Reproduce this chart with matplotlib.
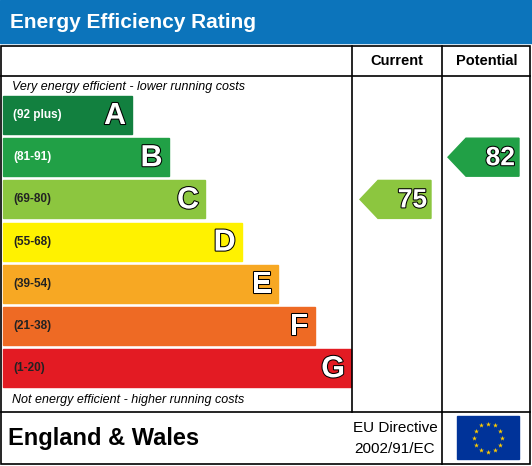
import matplotlib.pyplot as plt
import matplotlib.patheffects as pe
from matplotlib.patches import Rectangle, Polygon
import numpy as np

bands = ['A', 'B', 'C', 'D', 'E', 'F', 'G']
ranges = ['(92 plus)', '(81-91)', '(69-80)', '(55-68)', '(39-54)', '(21-38)', '(1-20)']
colors = ['#12803f', '#21a046', '#8cc63f', '#fff200', '#f7a823', '#ee6a24', '#e31b23']
current = 75
potential = 82


def band_of(score):
    lows = [92, 81, 69, 55, 39, 21, 1]
    for i, lo in enumerate(lows):
        if score >= lo:
            return i
    return 6


fig = plt.figure(figsize=(5.32, 4.66), dpi=100)
ax = fig.add_axes([0, 0, 1, 1])
ax.set_xlim(0, 532)
ax.set_ylim(466, 0)
ax.axis('off')
outline = [pe.withStroke(linewidth=1.5, foreground='black')]

# title bar
ax.add_patch(Rectangle((0, 0), 532, 43, color='#0c74bb'))
ax.text(10, 22, 'Energy Efficiency Rating', color='white', fontsize=15,
        fontweight='bold', va='center', family='Liberation Sans')

# frame and grid
lw = 1.2
ax.add_patch(Rectangle((1, 46), 529, 418, fill=False, lw=lw, ec='black'))
ax.plot([352, 352], [46, 412], color='black', lw=lw)
ax.plot([442, 442], [46, 412], color='black', lw=lw)
ax.plot([1, 530], [76, 76], color='black', lw=lw)
ax.plot([1, 530], [412, 412], color='black', lw=lw)
ax.plot([442, 442], [412, 464], color='black', lw=lw)
ax.text(397, 61, 'Current', ha='center', va='center', fontsize=10.5,
        fontweight='bold', family='Liberation Sans')
ax.text(487, 61, 'Potential', ha='center', va='center', fontsize=10.5,
        fontweight='bold', family='Liberation Sans')

ax.text(12, 87, 'Very energy efficient - lower running costs', fontsize=9,
        style='italic', va='center', family='Liberation Sans')
ax.text(12, 400, 'Not energy efficient - higher running costs', fontsize=9,
        style='italic', va='center', family='Liberation Sans')

# bands
top0, step, h = 96, 42.2, 38
for i, (b, r, c) in enumerate(zip(bands, ranges, colors)):
    y = top0 + i * step
    w = 129 + 36.5 * i
    ax.add_patch(Rectangle((3, y), w, h, color=c))
    ax.text(13, y + h / 2, r, color='white' if i < 2 else '#222222',
            fontsize=8.5, fontweight='bold', va='center', family='Liberation Sans')
    ax.text(3 + w - 6, y + h / 2 + 1, b, color='white', fontsize=22, fontweight='bold',
            ha='right', va='center', family='Liberation Sans', path_effects=outline)


def arrow(x0, x1, score):
    i = band_of(score)
    y = top0 + i * step
    pts = [(x0, y + h / 2), (x0 + 18, y), (x1, y), (x1, y + h), (x0 + 18, y + h)]
    ax.add_patch(Polygon(pts, closed=True, color=colors[i]))
    ax.text(x1 - 4, y + h / 2 + 1, str(score), color='white', fontsize=19,
            fontweight='bold', ha='right', va='center', family='Liberation Sans',
            path_effects=outline)


arrow(360, 431, current)
arrow(448, 519, potential)

# footer
ax.text(8, 438, 'England & Wales', fontsize=17, fontweight='bold', va='center',
        family='Liberation Sans')
ax.text(395, 428, 'EU Directive', fontsize=11, ha='center', va='center', family='Liberation Sans')
ax.text(395, 449, '2002/91/EC', fontsize=11, ha='center', va='center', family='Liberation Sans')
ax.add_patch(Rectangle((457, 416), 62, 43, color='#003399'))
ang = np.linspace(0, 2 * np.pi, 13)[:-1]
ax.scatter(488 + 14 * np.cos(ang), 437.5 + 14 * np.sin(ang), marker='*', s=14,
           color='#ffcc00', linewidths=0)

fig.savefig('out.png', dpi=100)
